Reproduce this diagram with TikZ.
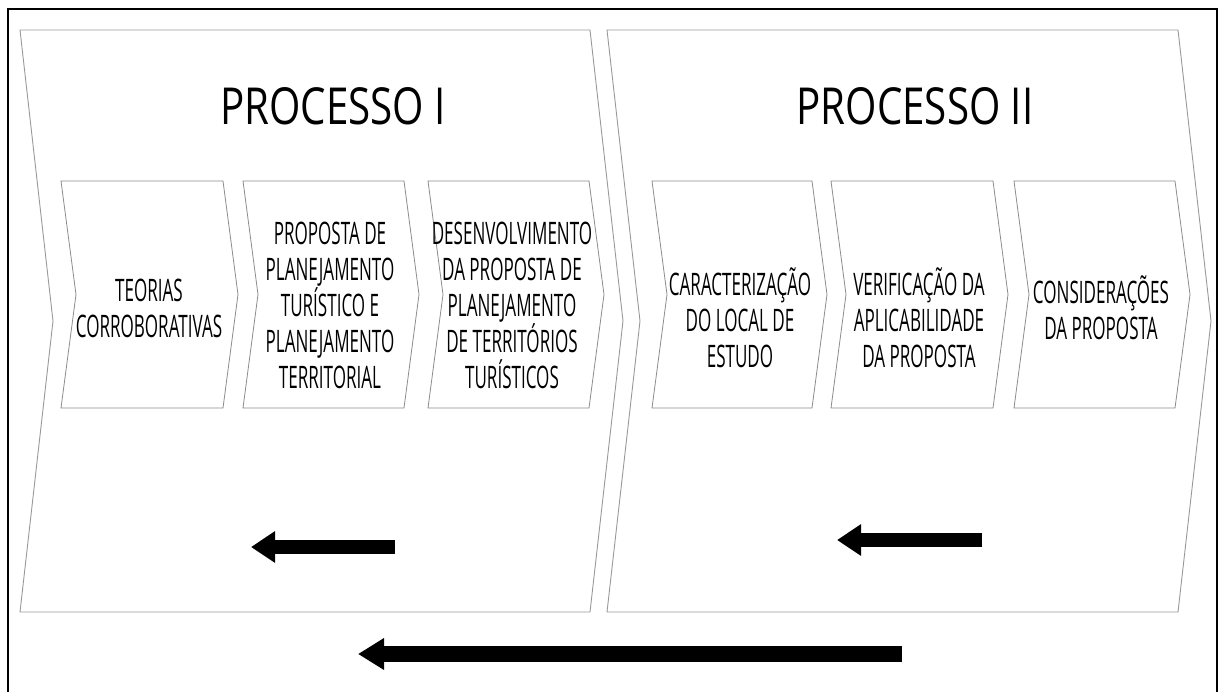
\documentclass[tikz,border=0pt]{standalone}
\usepackage{fontspec}
\setmainfont{Open Sans}
\newfontfamily\titlefont[FakeStretch=0.79]{Open Sans}
\newfontfamily\boxfont[FakeStretch=0.55]{Open Sans}
\usetikzlibrary{arrows.meta}

% chevron outline: style, left x, right x, top y, bottom y, indent
\newcommand\chevshape[6]{%
  \draw[#1] (#2,#4) -- (#3,#4) -- ({#3+#6},{(#4+#5)/2}) -- (#3,#5)
    -- (#2,#5) -- ({#2+#6},{(#4+#5)/2}) -- cycle;}

\begin{document}
\begin{tikzpicture}[x=1pt,y=-1pt,
  bigchev/.style={draw=black!40, line width=0.9pt, line join=miter},
  smallchev/.style={draw=black!45, line width=0.8pt, line join=miter},
  titletext/.style={font=\titlefont\fontsize{51}{56}\selectfont, inner sep=0pt},
  boxtext/.style={font=\boxfont\fontsize{31}{36}\selectfont, align=center, inner sep=0pt},
  blockarrow/.style={line width=14pt, -{Triangle[length=24pt,width=30pt]}},
  longarrow/.style={line width=16pt, -{Triangle[length=26pt,width=30pt]}}]

\useasboundingbox (0,0) rectangle (1218,691);
\fill[white] (0,0) rectangle (1218,691);

% outer frame (open at the bottom)
\draw[line width=2pt] (8,700) -- (8,9) -- (1217,9) -- (1217,700);

% the two process chevrons
\chevshape{bigchev}{20}{590}{30}{612}{33}
\chevshape{bigchev}{607}{1178}{30}{612}{33}

\node[titletext] (t1) at (333,106) {PROCESSO I};
\node[titletext] (t2) at (915,106) {PROCESSO II};

% steps of process I
\chevshape{smallchev}{61}{223}{181}{408}{15}
\chevshape{smallchev}{243}{404}{181}{408}{15}
\chevshape{smallchev}{428}{589}{181}{408}{15}
% steps of process II
\chevshape{smallchev}{652}{812}{181}{408}{15}
\chevshape{smallchev}{831}{993}{181}{408}{15}
\chevshape{smallchev}{1014}{1175}{181}{408}{15}

\node[boxtext] (s1) at (149,308) {TEORIAS\\CORROBORATIVAS};
\node[boxtext] (s2) at (330,305) {PROPOSTA DE\\PLANEJAMENTO\\TURÍSTICO E\\PLANEJAMENTO\\TERRITORIAL};
\node[boxtext] (s3) at (512,305) {DESENVOLVIMENTO\\DA PROPOSTA DE\\PLANEJAMENTO\\DE TERRITÓRIOS\\TURÍSTICOS};
\node[boxtext] (s4) at (740,318) {CARACTERIZAÇÃO\\DO LOCAL DE\\ESTUDO};
\node[boxtext] (s5) at (919,318) {VERIFICAÇÃO DA\\APLICABILIDADE\\DA PROPOSTA};
\node[boxtext] (s6) at (1101,308) {CONSIDERAÇÕES\\DA PROPOSTA};

% feedback arrows
\coordinate (a1s) at (395,547);
\coordinate (a1e) at (251,547);
\coordinate (a2s) at (982,540);
\coordinate (a2e) at (837,540);
\coordinate (a3s) at (902,654);
\coordinate (a3e) at (358,654);
\draw[blockarrow] (a1s) -- (a1e);
\draw[blockarrow] (a2s) -- (a2e);
\draw[longarrow] (a3s) -- (a3e);
\end{tikzpicture}
\end{document}
